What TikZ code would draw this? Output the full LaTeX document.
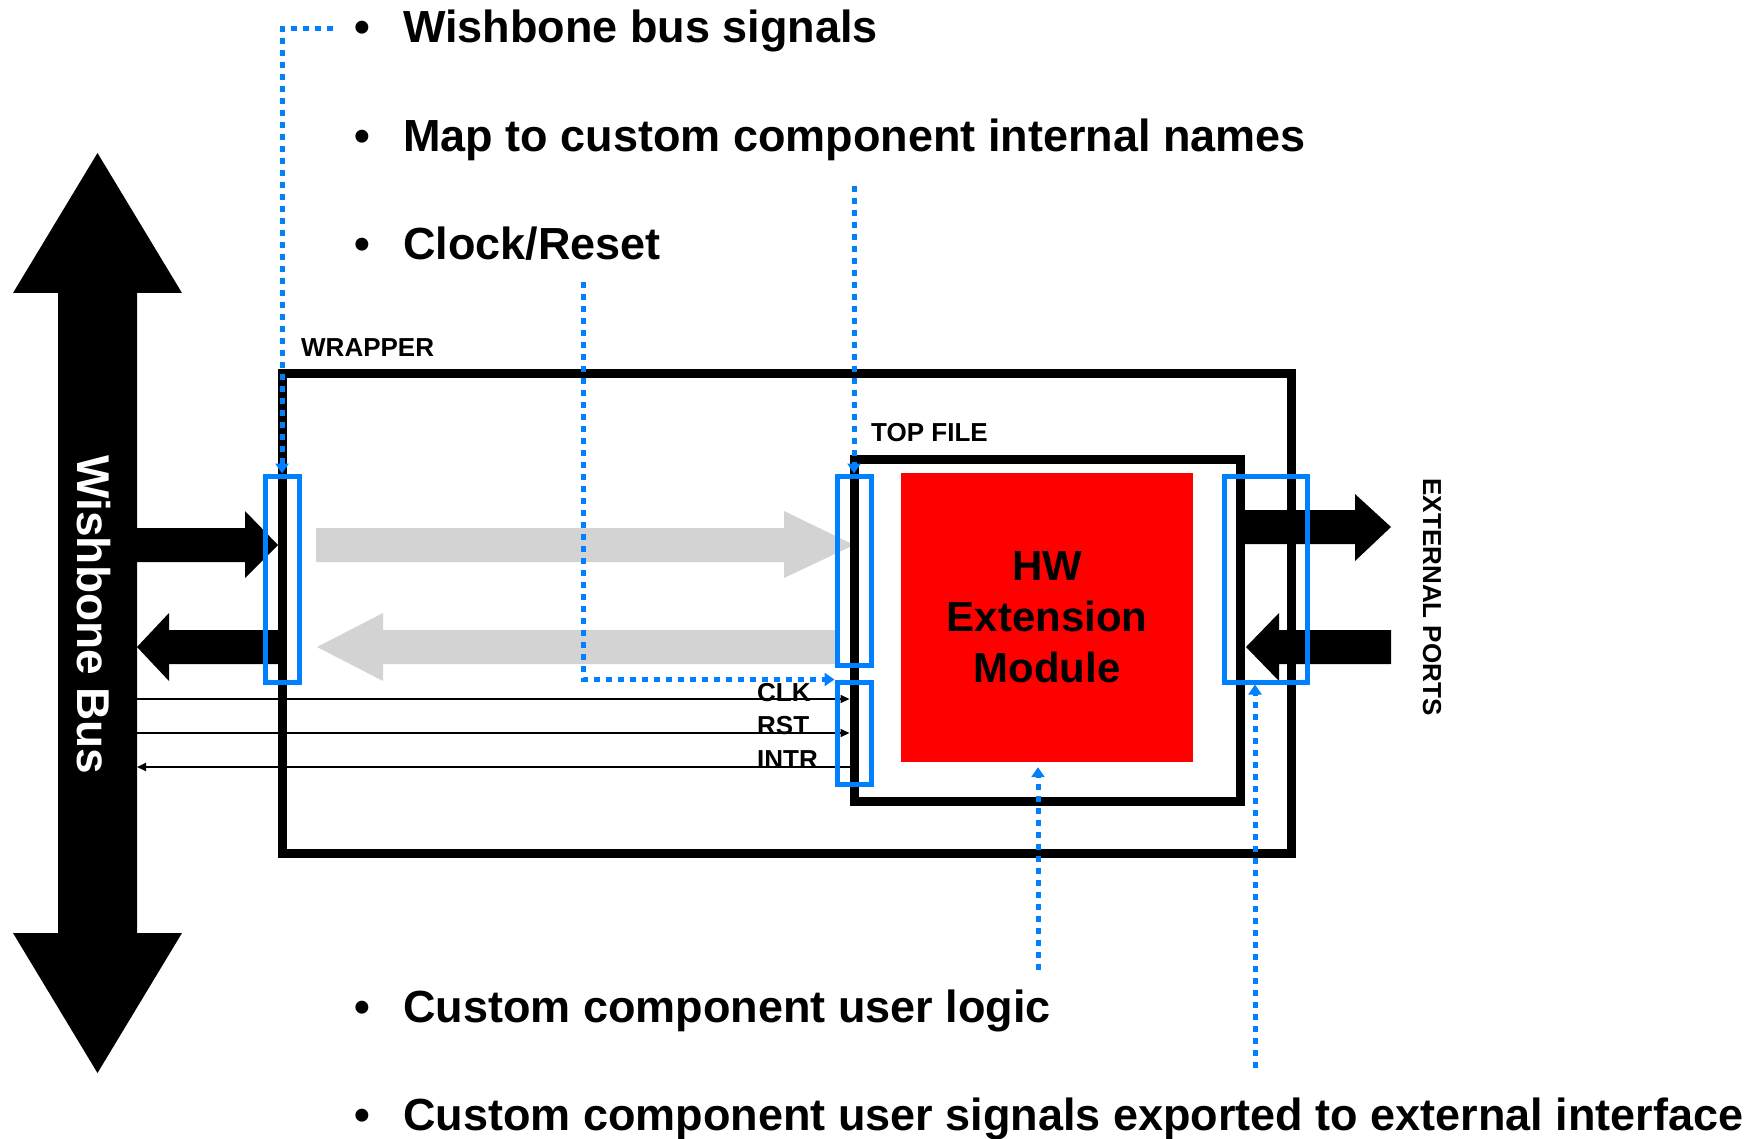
\documentclass[tikz,border=0pt]{standalone}
\usepackage{fontspec}
\setmainfont{Liberation Sans}
\usetikzlibrary{arrows.meta, positioning}

\definecolor{portblue}{RGB}{0,128,255}
\definecolor{flowgrey}{RGB}{211,211,211}

\tikzset{
	boxframe/.style={draw, line width=9pt, inner sep=0pt},
	port/.style={draw=portblue, line width=5pt, inner sep=0pt, minimum width=34pt},
	hint/.style={draw=portblue, line width=5pt, dash pattern=on 6pt off 6pt, -{Triangle[width=13pt, length=10pt]}},
	sig/.style={line width=2pt, -{Triangle[width=8pt, length=9pt]}},
	sigtag/.style={font=\bfseries\fontsize{26}{30}\selectfont, inner sep=0pt},
	bulletitem/.style={font=\bfseries\fontsize{45}{54}\selectfont, inner sep=0pt, anchor=base west},
}

\begin{document}
\begin{tikzpicture}[x=1pt, y=-1pt]
	\useasboundingbox (0,0) rectangle (1764,1139);

	% data flow through the wrapper
	\fill[flowgrey] (316,528) -- (784,528) -- (784,511) -- (854,545) -- (784,578) -- (784,562) -- (316,562) -- cycle;
	\fill[flowgrey] (317,647) -- (383,613) -- (383,630) -- (837,630) -- (837,664) -- (383,664) -- (383,681) -- cycle;

	\node[boxframe, minimum width=1009.5pt, minimum height=479.5pt] (wrapper) at (786.75,613.25) {};
	\node[sigtag, anchor=base west] (wraptag) at (301,357) {WRAPPER};
	\node[boxframe, minimum width=386.5pt, minimum height=342pt] (topfile) at (1047.25,630) {};
	\node[sigtag, anchor=base west] (toptag) at (871,441) {TOP FILE};
	\node[fill=red, minimum width=292pt, minimum height=289pt, inner sep=0pt, align=center,
		font=\bfseries\fontsize{42}{51}\selectfont] (hwmod) at (1047,617.5) {HW\\Extension\\Module};

	% the bus itself
	\fill (97.5,153) -- (182,293) -- (137,293) -- (137,933) -- (182,933) -- (97.5,1073)
		-- (13,933) -- (58,933) -- (58,293) -- (13,293) -- cycle;
	\node[white, rotate=-90, font=\bfseries\fontsize{46}{54}\selectfont, inner sep=0pt] (bus) at (94,615) {Wishbone Bus};

	% bus side and external side
	\fill (137,528) -- (245,528) -- (245,511) -- (278,545) -- (245,578) -- (245,562) -- (137,562) -- cycle;
	\fill (137,647) -- (169,613) -- (169,630) -- (285,630) -- (285,664) -- (169,664) -- (169,681) -- cycle;
	\fill (1240,510) -- (1355,510) -- (1355,494) -- (1391,527) -- (1355,561) -- (1355,544) -- (1240,544) -- cycle;
	\fill (1246,647) -- (1279,613) -- (1279,630) -- (1391,630) -- (1391,664) -- (1279,664) -- (1279,681) -- cycle;
	\node[sigtag, rotate=-90] (exttag) at (1432,597) {EXTERNAL PORTS};

	\coordinate (clkin) at (137,699);
	\coordinate (rstin) at (137,733);
	\coordinate (intrin) at (137,767);
	\draw[sig] (clkin) -- (clkin -| topfile.west);
	\draw[sig] (rstin) -- (rstin -| topfile.west);
	\draw[sig] (intrin -| topfile.west) -- (intrin);
	\node[sigtag, anchor=base west] (clk) at (757,701) {CLK};
	\node[sigtag, anchor=base west] (rst) at (757,734) {RST};
	\node[sigtag, anchor=base west] (intr) at (757,768) {INTR};

	\node[port, minimum height=206pt] (wbport) at (282,579) {};
	\node[port, minimum height=189pt] (mapport) at (854,570.5) {};
	\node[port, minimum height=102pt] (clkport) at (854,733) {};
	\node[port, minimum width=83pt, minimum height=206pt] (extport) at (1265.5,579) {};

	% notes
	\node[bulletitem] (wbsig) at (354,43) {\makebox[49pt][l]{\textbullet}Wishbone bus signals};
	\node[bulletitem] (mapsig) at (354,152) {\makebox[49pt][l]{\textbullet}Map to custom component internal names};
	\node[bulletitem] (clksig) at (354,260) {\makebox[49pt][l]{\textbullet}Clock/Reset};
	\node[bulletitem] (logic) at (354,1022) {\makebox[49pt][l]{\textbullet}Custom component user logic};
	\node[bulletitem] (export) at (354,1130) {\makebox[49pt][l]{\textbullet}Custom component user signals exported to external interface};

	\coordinate (fromwb) at (333,29);
	\coordinate (frommap) at (854,186);
	\coordinate (fromclk) at (583,282);
	\coordinate (fromlogic) at (1038,970);
	\coordinate (fromext) at (1255,1068);
	\draw[hint] (fromwb) -| (wbport.north);
	\draw[hint] (frommap) -- (mapport.north);
	\draw[hint] (fromclk) |- (clkport.north west);
	\draw[hint, shorten >=5pt] (fromlogic) -- (fromlogic |- hwmod.south);
	\draw[hint] (fromext) -- (fromext |- extport.south);
\end{tikzpicture}
\end{document}
